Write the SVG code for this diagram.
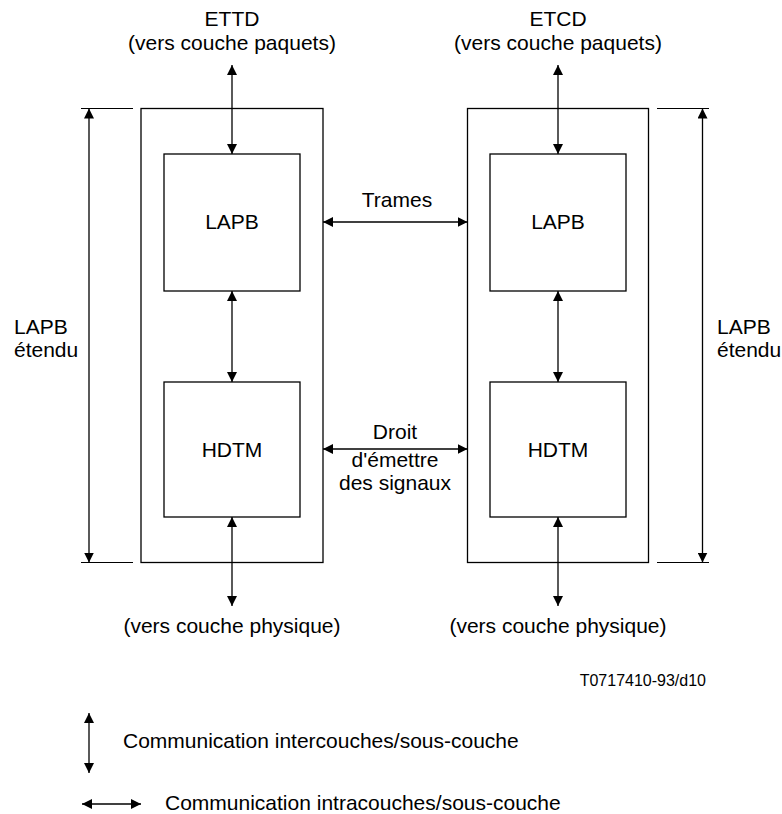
<svg xmlns="http://www.w3.org/2000/svg" width="782" height="814" viewBox="0 0 782 814">
<style>
.box{fill:none;stroke:#000;stroke-width:1.3}
.ln{fill:none;stroke:#000;stroke-width:1.3}
.tk{fill:none;stroke:#000;stroke-width:1}
text{font-family:"Liberation Sans",Arial,sans-serif;font-size:21px;fill:#000}
.c{text-anchor:middle}
.sm{font-size:16px}
</style>
<defs>
<marker id="ah" viewBox="0 0 10 10" refX="10" refY="5" markerWidth="10" markerHeight="10" markerUnits="userSpaceOnUse" orient="auto-start-reverse">
<path d="M0,0 L10,5 L0,10 Z" fill="#000"/>
</marker>
</defs>
<rect width="782" height="814" fill="#fff"/>

<g id="ettd-label">
<text class="c" x="232" y="26">ETTD</text>
<text class="c" x="232" y="50">(vers couche paquets)</text>
</g>
<g id="etcd-label">
<text class="c" x="558" y="26">ETCD</text>
<text class="c" x="558" y="50">(vers couche paquets)</text>
</g>

<g id="left-outer"><rect class="box" x="141" y="108.5" width="182" height="454"/></g>
<g id="right-outer"><rect class="box" x="467.5" y="108.5" width="181" height="454"/></g>

<g id="left-lapb">
<rect class="box" x="164" y="154" width="136" height="137"/>
<text class="c" x="232" y="229">LAPB</text>
</g>
<g id="left-hdtm">
<rect class="box" x="164" y="382" width="136" height="135"/>
<text class="c" x="232" y="457">HDTM</text>
</g>
<g id="right-lapb">
<rect class="box" x="490" y="154" width="136" height="137"/>
<text class="c" x="558" y="229">LAPB</text>
</g>
<g id="right-hdtm">
<rect class="box" x="490" y="382" width="136" height="135"/>
<text class="c" x="558" y="457">HDTM</text>
</g>

<g id="left-dim-label">
<text x="14" y="334">LAPB</text>
<text x="14" y="357">étendu</text>
</g>
<g id="right-dim-label">
<text x="717" y="334">LAPB</text>
<text x="717" y="357">étendu</text>
</g>

<g id="trames-label"><text class="c" x="397" y="207">Trames</text></g>
<g id="droit-label">
<text class="c" x="395" y="439">Droit</text>
<text class="c" x="395" y="467">d'émettre</text>
<text class="c" x="395" y="490">des signaux</text>
</g>

<g id="phys-labels">
<text class="c" x="232" y="633">(vers couche physique)</text>
<text class="c" x="558" y="633">(vers couche physique)</text>
</g>

<g id="ref"><text class="sm" x="706" y="686" text-anchor="end">T0717410-93/d10</text></g>

<g id="legend">
<text x="123" y="748">Communication intercouches/sous-couche</text>
<text x="165" y="810">Communication intracouches/sous-couche</text>
</g>

<g id="connectors">
<!-- left stack -->
<line class="ln" x1="232" y1="65" x2="232" y2="154" marker-start="url(#ah)" marker-end="url(#ah)"/>
<line class="ln" x1="232" y1="291" x2="232" y2="382" marker-start="url(#ah)" marker-end="url(#ah)"/>
<line class="ln" x1="232" y1="517" x2="232" y2="606" marker-start="url(#ah)" marker-end="url(#ah)"/>
<!-- right stack -->
<line class="ln" x1="558" y1="65" x2="558" y2="154" marker-start="url(#ah)" marker-end="url(#ah)"/>
<line class="ln" x1="558" y1="291" x2="558" y2="382" marker-start="url(#ah)" marker-end="url(#ah)"/>
<line class="ln" x1="558" y1="517" x2="558" y2="606" marker-start="url(#ah)" marker-end="url(#ah)"/>
<!-- horizontal -->
<line class="ln" x1="323" y1="222" x2="467.5" y2="222" marker-start="url(#ah)" marker-end="url(#ah)"/>
<line class="ln" x1="323" y1="449" x2="467.5" y2="449" marker-start="url(#ah)" marker-end="url(#ah)"/>
<!-- dimension lines -->
<line class="tk" x1="81" y1="108.5" x2="133" y2="108.5"/>
<line class="tk" x1="81" y1="562.5" x2="133" y2="562.5"/>
<line class="ln" x1="89" y1="108.5" x2="89" y2="562.5" marker-start="url(#ah)" marker-end="url(#ah)"/>
<line class="tk" x1="657" y1="108.5" x2="709" y2="108.5"/>
<line class="tk" x1="657" y1="562.5" x2="709" y2="562.5"/>
<line class="ln" x1="702.5" y1="108.5" x2="702.5" y2="562.5" marker-start="url(#ah)" marker-end="url(#ah)"/>
<!-- legend arrows -->
<line class="ln" x1="89" y1="713" x2="89" y2="773" marker-start="url(#ah)" marker-end="url(#ah)"/>
<line class="ln" x1="82" y1="804" x2="141" y2="804" marker-start="url(#ah)" marker-end="url(#ah)"/>
</g>
</svg>
